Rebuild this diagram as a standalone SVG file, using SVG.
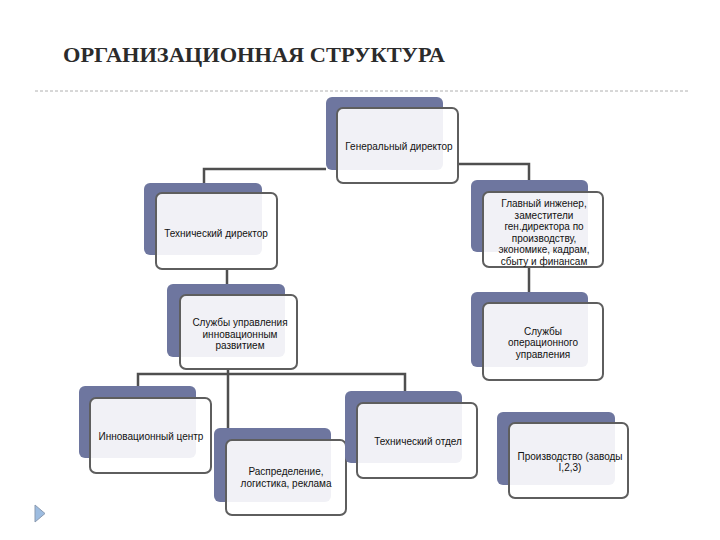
<svg xmlns="http://www.w3.org/2000/svg" width="720" height="540" viewBox="0 0 720 540">
<style>
.back{fill:#6e769f;}
.front{fill:#ffffff;fill-opacity:0.9;stroke:#5e5e5e;stroke-width:2;}
.t{font-family:"Liberation Sans",Arial,sans-serif;font-size:10px;fill:#111;text-anchor:middle;}
.c{fill:none;stroke:#4f4f4f;stroke-width:2.5;}
.title{font-family:"Liberation Serif","Times New Roman",serif;font-size:22px;font-weight:bold;fill:#2b2b2b;}
</style>
<rect width="720" height="540" fill="#ffffff"/>
<text class="title" x="63" y="62" textLength="382" lengthAdjust="spacingAndGlyphs">ОРГАНИЗАЦИОННАЯ СТРУКТУРА</text>
<line x1="35" y1="91" x2="690" y2="91" stroke="#b0b0b0" stroke-width="1" stroke-dasharray="3,2"/>
<polygon points="35,505 45,513.5 35,522" fill="#9dbce0" stroke="#8a9ab0" stroke-width="1"/>
<g id="connectors">
<polyline class="c" points="326,169 204,169 204,183"/>
<polyline class="c" points="458,164 529,164 529,180"/>
<line class="c" x1="227" y1="269" x2="227" y2="284"/>
<line class="c" x1="529" y1="267" x2="529" y2="292"/>
<line class="c" x1="228" y1="369" x2="228" y2="428"/>
<polyline class="c" points="138,386 138,374 405,374 405,391"/>
</g>
<g id="n1">
<rect class="back" x="326" y="97" width="117" height="73" rx="6"/>
<rect class="front" x="337" y="108" width="121" height="75" rx="6"/>
<text class="t" x="399" y="150">Генеральный директор</text>
</g>
<g id="n2">
<rect class="back" x="144" y="183" width="118" height="72" rx="6"/>
<rect class="front" x="156" y="193" width="121" height="76" rx="6"/>
<text class="t" x="216" y="237">Технический директор</text>
</g>
<g id="n3">
<rect class="back" x="471" y="180" width="117" height="72" rx="6"/>
<rect class="front" x="483" y="192" width="120" height="75" rx="6"/>
<text class="t" x="544" y="207">Главный инженер,</text>
<text class="t" x="544" y="219">заместители</text>
<text class="t" x="544" y="230">ген.директора по</text>
<text class="t" x="544" y="242">производству,</text>
<text class="t" x="544" y="253">экономике, кадрам,</text>
<text class="t" x="544" y="265">сбыту и финансам</text>
</g>
<g id="n4">
<rect class="back" x="167" y="284" width="118" height="73" rx="6"/>
<rect class="front" x="180" y="295" width="117" height="74" rx="6"/>
<text class="t" x="240" y="326">Службы управления</text>
<text class="t" x="240" y="338">инновационным</text>
<text class="t" x="240" y="349">развитием</text>
</g>
<g id="n5">
<rect class="back" x="471" y="292" width="117" height="75" rx="6"/>
<rect class="front" x="483" y="303" width="120" height="77" rx="6"/>
<text class="t" x="543" y="335">Службы</text>
<text class="t" x="543" y="346">операционного</text>
<text class="t" x="543" y="358">управления</text>
</g>
<g id="n6">
<rect class="back" x="79" y="386" width="117" height="72" rx="6"/>
<rect class="front" x="90" y="398" width="121" height="75" rx="6"/>
<text class="t" x="151" y="440">Инновационный центр</text>
</g>
<g id="n7">
<rect class="back" x="214" y="428" width="117" height="74" rx="6"/>
<rect class="front" x="226" y="440" width="120" height="75" rx="6"/>
<text class="t" x="286" y="475">Распределение,</text>
<text class="t" x="286" y="487">логистика, реклама</text>
</g>
<g id="n8">
<rect class="back" x="345" y="391" width="117" height="72" rx="6"/>
<rect class="front" x="357" y="403" width="120" height="75" rx="6"/>
<text class="t" x="418" y="445">Технический отдел</text>
</g>
<g id="n9">
<rect class="back" x="497" y="412" width="118" height="73" rx="6"/>
<rect class="front" x="509" y="423" width="119" height="75" rx="6"/>
<text class="t" x="570" y="460">Производство (заводы</text>
<text class="t" x="570" y="471">I,2,3)</text>
</g>
</svg>
